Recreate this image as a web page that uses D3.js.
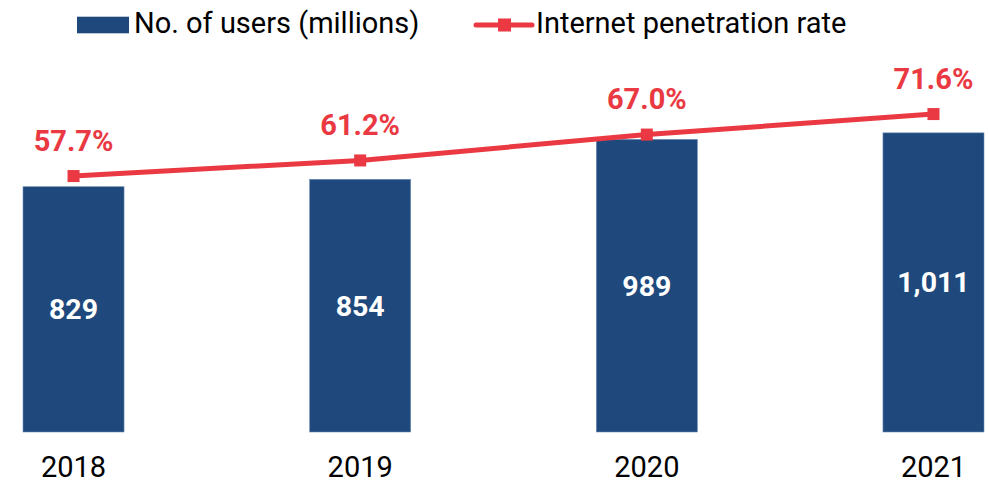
<!DOCTYPE html>
<html>
<head>
<meta charset="utf-8">
<script src="https://cdn.jsdelivr.net/npm/d3@7"></script>
<style>
  html, body { margin: 0; padding: 0; background: #fff; }
  svg { display: block; font-family: Roboto, "Liberation Sans", sans-serif; }
</style>
</head>
<body>
<svg id="chart" width="989" height="481"></svg>
<script>
const years = ["2018", "2019", "2020", "2021"];
const users = [829, 854, 989, 1011];
const userLabels = ["829", "854", "989", "1,011"];
const penetration = [57.7, 61.2, 67.0, 71.6];
const penetrationLabels = ["57.7%", "61.2%", "67.0%", "71.6%"];
const legendLabels = ["No. of users (millions)", "Internet penetration rate"];

const barColor = "#1F497D";
const lineColor = "#EA3942";

const svg = d3.select("#chart");

const x = d3.scaleBand().domain(years).range([23, 984]).paddingInner(0.6475).paddingOuter(0);
const yBar = d3.scaleLinear().domain([0, 1460]).range([432, 0]);
const yLine = d3.scaleLinear().domain([0, 100]).range([433.4, -12.6]);

// Bars
svg.append("g").selectAll("rect").data(years).join("rect")
  .attr("x", d => x(d))
  .attr("width", x.bandwidth())
  .attr("y", (d, i) => yBar(users[i]))
  .attr("height", (d, i) => yBar(0) - yBar(users[i]))
  .attr("fill", barColor)
  .attr("stroke", "#6d8db3")
  .attr("stroke-width", 0.6);

// Bar labels
svg.append("g").selectAll("text").data(years).join("text")
  .attr("x", d => x(d) + x.bandwidth() / 2)
  .attr("y", (d, i) => (yBar(users[i]) + yBar(0)) / 2 + 10)
  .attr("text-anchor", "middle")
  .attr("fill", "#fff")
  .attr("font-weight", "bold")
  .attr("font-size", "28.5px")
  .text((d, i) => userLabels[i]);

// X axis (labels only)
const xAxis = d3.axisBottom(x).tickSize(0).tickPadding(0);
const gx = svg.append("g").attr("transform", "translate(0,432)").call(xAxis);
gx.select(".domain").remove();
gx.selectAll("text")
  .attr("dy", null)
  .attr("y", 45)
  .attr("fill", "#000")
  .attr("font-size", "29px")
  .attr("font-family", "Roboto, sans-serif");

// Line
const line = d3.line()
  .x((d, i) => x(years[i]) + x.bandwidth() / 2)
  .y(d => yLine(d));
svg.append("path").datum(penetration)
  .attr("d", line)
  .attr("fill", "none")
  .attr("stroke", lineColor)
  .attr("stroke-width", 5);

svg.append("g").selectAll("rect").data(penetration).join("rect")
  .attr("x", (d, i) => x(years[i]) + x.bandwidth() / 2 - 6)
  .attr("y", d => yLine(d) - 6)
  .attr("width", 12)
  .attr("height", 12)
  .attr("fill", lineColor);

svg.append("g").selectAll("text").data(penetration).join("text")
  .attr("x", (d, i) => x(years[i]) + x.bandwidth() / 2)
  .attr("y", d => yLine(d) - 25.3)
  .attr("text-anchor", "middle")
  .attr("fill", lineColor)
  .attr("font-weight", "bold")
  .attr("font-size", "29px")
  .text((d, i) => penetrationLabels[i]);

// Legend
const lg = svg.append("g");
lg.append("rect").attr("x", 77).attr("y", 16.7).attr("width", 52).attr("height", 16.6).attr("fill", barColor);
lg.append("text").attr("x", 134).attr("y", 32.8).attr("font-size", "29px").attr("fill", "#000").text(legendLabels[0]);
lg.append("line").attr("x1", 476).attr("x2", 532).attr("y1", 25).attr("y2", 25)
  .attr("stroke", lineColor).attr("stroke-width", 5).attr("stroke-linecap", "round");
lg.append("rect").attr("x", 498).attr("y", 18.5).attr("width", 13).attr("height", 13).attr("fill", lineColor);
lg.append("text").attr("x", 536).attr("y", 32.8).attr("font-size", "29px").attr("fill", "#000").text(legendLabels[1]);
</script>
</body>
</html>
